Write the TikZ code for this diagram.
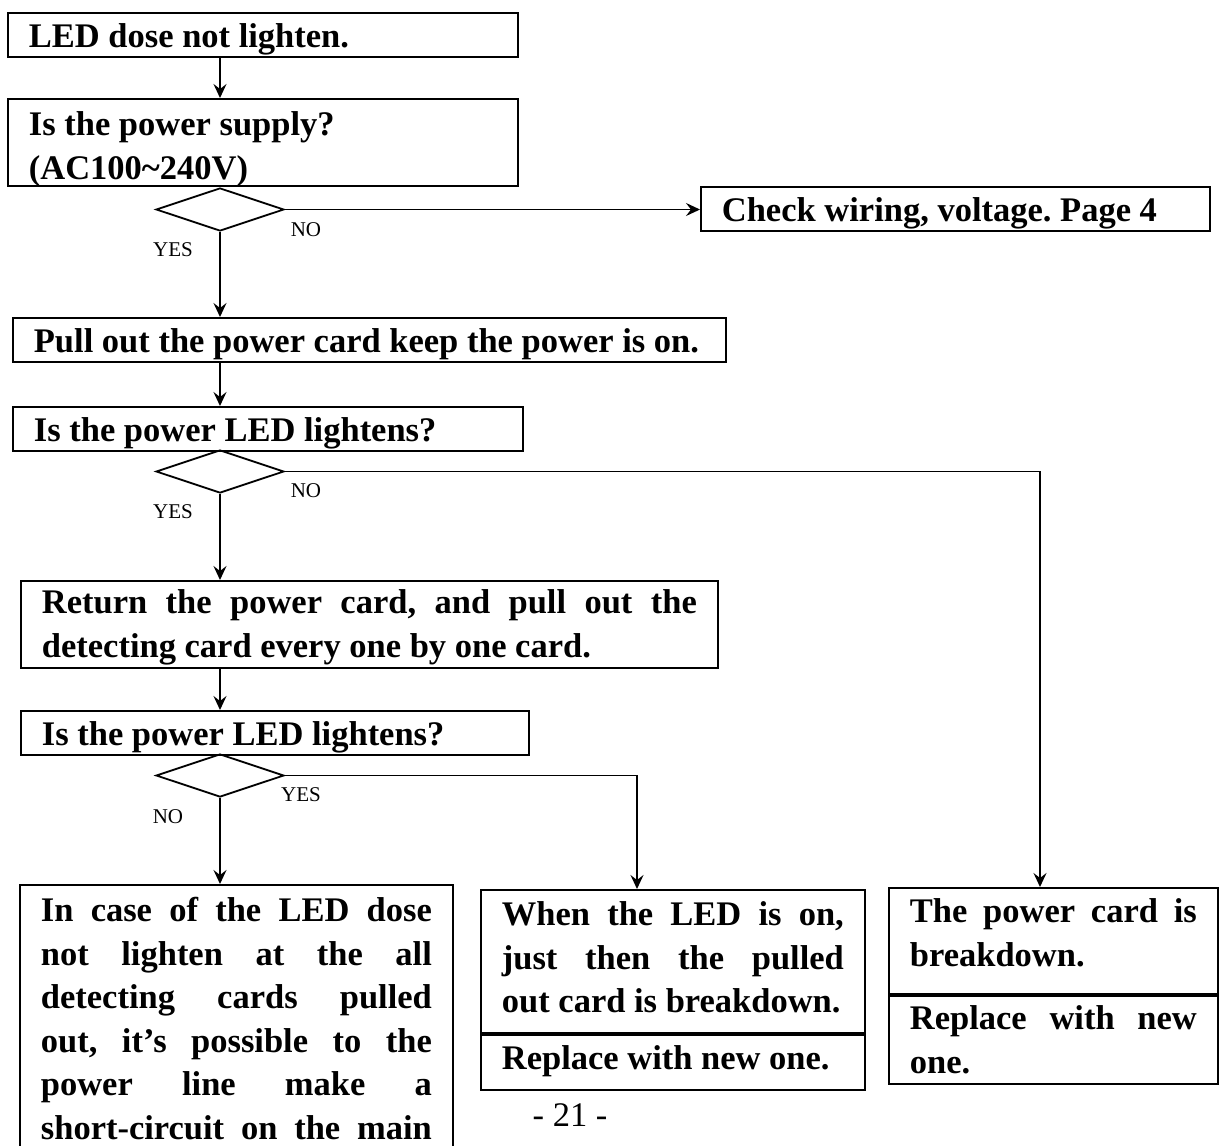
\documentclass[tikz,border=0pt]{standalone}
\usepackage{fontspec}
\setmainfont{Liberation Serif}
\usetikzlibrary{shapes.geometric, arrows.meta, positioning}
\hyphenpenalty=10000
\exhyphenpenalty=10000
\frenchspacing

\begin{document}
\begin{tikzpicture}[x=1pt, y=-1pt,
    box/.style={draw, line width=1.8pt, anchor=north west, inner xsep=21pt, inner ysep=0pt,
      font=\fontsize{34.5}{43.5}\selectfont\bfseries,
      execute at begin node={\spaceskip=0pt\xspaceskip=0pt\leftskip=0pt\rightskip=0pt\parfillskip=0pt plus 1fil\relax}},
    choice/.style={draw, diamond, line width=1.8pt, minimum width=128pt, minimum height=43pt, inner sep=0pt},
    answer/.style={font=\fontsize{21}{21}\selectfont, inner sep=0pt},
    arr/.style={line width=1.8pt, -{Stealth[length=14pt, width=13pt, inset=5pt]}}]
  \useasboundingbox (0,0) rectangle (1224,1146);
  \clip (0,0) rectangle (1224,1146);

  \node[box, text width=468pt, text height=35pt, text depth=9pt] (b1) at (7,12) {LED dose not lighten.};
  \node[box, text width=468pt, text height=37pt, text depth=50pt] (b2) at (7,98)
    {Is the power supply?\\(AC100\textasciitilde240V)};
  \node[choice] (d1) at (220,209.5) {};
  \node[box, text width=467pt, text height=35pt, text depth=9pt] (b3) at (700,186) {Check wiring, voltage. Page 4};
  \node[box, text width=671pt, text height=35pt, text depth=9pt] (b4) at (12,317)
    {Pull out the power card keep the power is on.};
  \node[box, text width=468pt, text height=35pt, text depth=9pt] (b5) at (12,406) {Is the power LED lightens?};
  \node[choice] (d2) at (220,471.5) {};
  \node[box, text width=655pt, text height=33pt, text depth=54pt] (b6) at (20,580)
    {Return the power card, and pull out the\linebreak detecting card every one by one card.};
  \node[box, text width=466pt, text height=35pt, text depth=9pt] (b7) at (20,710) {Is the power LED lightens?};
  \node[choice] (d3) at (220,775.5) {};

  \node[box, text width=391pt, text height=37pt, text depth=260pt] (b9) at (19,884)
    {In case of the LED dose\linebreak not lighten at the all\linebreak detecting cards pulled\linebreak
     out, it’s possible to the\linebreak power line make a\linebreak short-circuit on the main\linebreak\null};
  \node[box, text width=342pt, text height=36pt, text depth=107pt] (b8top) at (480,889)
    {When the LED is on,\linebreak just then the pulled\linebreak out card is breakdown.};
  \node[box, text width=342pt, text height=35pt, text depth=20pt] (b8bot) at (b8top.south west)
    {Replace with new one.};
  \node[box, text width=287pt, text height=35pt, text depth=71pt] (b10top) at (888,887)
    {The power card is\linebreak breakdown.};
  \node[box, text width=287pt, text height=34pt, text depth=54pt] (b10bot) at (b10top.south west)
    {Replace with new\linebreak one.};

  \node[answer] (n1) at (306,230) {NO};
  \node[answer] (y1) at (173,250) {YES};
  \node[answer] (n2) at (306,491) {NO};
  \node[answer] (y2) at (173,512) {YES};
  \node[answer] (y3) at (301,795) {YES};
  \node[answer] (n3) at (168,817) {NO};
  \node[font=\fontsize{34.5}{40}\selectfont, inner sep=0pt] (pg) at (570,1115) {- 21 -};

  \coordinate (k2) at (1040,471.5);
  \coordinate (k3) at (637,775.5);
  \draw[arr] (b1.south -| d1) -- (b2.north -| d1);
  \draw[arr] (d1.east) -- (b3.west |- d1.east);
  \draw[arr] (d1.south) -- (b4.north -| d1);
  \draw[arr] (b4.south -| d1) -- (b5.north -| d1);
  \draw[arr] (d2.east) -- (k2) -- (k2 |- b10top.north);
  \draw[arr] (d2.south) -- (b6.north -| d2);
  \draw[arr] (b6.south -| d2) -- (b7.north -| d2);
  \draw[arr] (d3.east) -- (k3) -- (k3 |- b8top.north);
  \draw[arr] (d3.south) -- (b9.north -| d3);
\end{tikzpicture}
\end{document}
